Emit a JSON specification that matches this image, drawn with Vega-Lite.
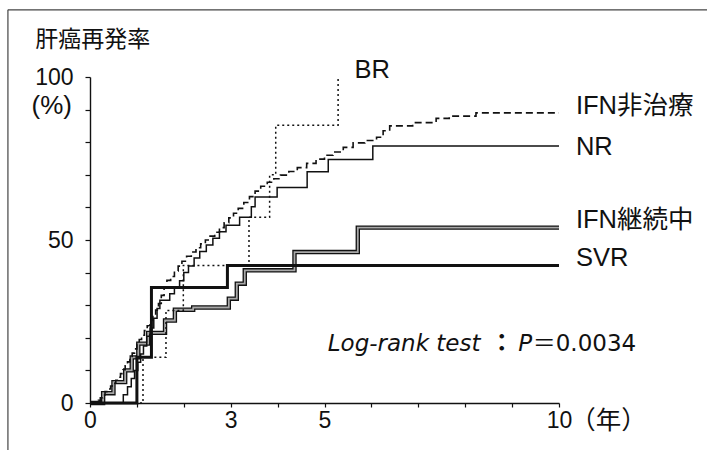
{
  "$schema": "https://vega.github.io/schema/vega-lite/v6.json",
  "width": 469,
  "height": 326,
  "autosize": {"type": "none"},
  "padding": {"left": 90, "top": 77, "right": 148, "bottom": 47},
  "background": "white",
  "config": {
    "view": {"stroke": null},
    "axis": {
      "grid": false,
      "domainColor": "#111",
      "domainWidth": 1.4,
      "tickColor": "#111",
      "tickWidth": 1.2,
      "labelFont": "Liberation Sans",
      "labelFontSize": 23,
      "labelColor": "#111",
      "labelFlush": false,
      "labelOverlap": false,
      "title": null
    }
  },
  "datasets": {
    "curves": [
      {"g": "SVR", "t": 0, "v": 0}, {"g": "SVR", "t": 1.0, "v": 14.0}, {"g": "SVR", "t": 1.31, "v": 35.4}, {"g": "SVR", "t": 2.93, "v": 42.2}, {"g": "SVR", "t": 10, "v": 42.2},
      {"g": "BR", "t": 0, "v": 0}, {"g": "BR", "t": 1.13, "v": 14.0}, {"g": "BR", "t": 1.62, "v": 28.4}, {"g": "BR", "t": 1.99, "v": 42.2}, {"g": "BR", "t": 3.39, "v": 57.0}, {"g": "BR", "t": 3.83, "v": 70.0}, {"g": "BR", "t": 3.96, "v": 85.2}, {"g": "BR", "t": 5.29, "v": 100},
      {"g": "IFN継続中", "t": 0, "v": 0}, {"g": "IFN継続中", "t": 0.28, "v": 3.0}, {"g": "IFN継続中", "t": 0.5, "v": 6.4}, {"g": "IFN継続中", "t": 0.75, "v": 10.0}, {"g": "IFN継続中", "t": 0.89, "v": 14.0}, {"g": "IFN継続中", "t": 1.03, "v": 18.2}, {"g": "IFN継続中", "t": 1.24, "v": 21.5}, {"g": "IFN継続中", "t": 1.6, "v": 25.3}, {"g": "IFN継続中", "t": 1.81, "v": 28.6}, {"g": "IFN継続中", "t": 2.2, "v": 29.3}, {"g": "IFN継続中", "t": 2.96, "v": 32.0}, {"g": "IFN継続中", "t": 3.13, "v": 36.6}, {"g": "IFN継続中", "t": 3.3, "v": 40.7}, {"g": "IFN継続中", "t": 4.36, "v": 46.3}, {"g": "IFN継続中", "t": 5.71, "v": 53.8}, {"g": "IFN継続中", "t": 10, "v": 53.8},
      {"g": "NR", "t": 0, "v": 0}, {"g": "NR", "t": 0.71, "v": 2.5}, {"g": "NR", "t": 0.8, "v": 5.0}, {"g": "NR", "t": 0.88, "v": 7.5}, {"g": "NR", "t": 0.95, "v": 10.0}, {"g": "NR", "t": 1.02, "v": 12.5}, {"g": "NR", "t": 1.08, "v": 15.0}, {"g": "NR", "t": 1.14, "v": 17.5}, {"g": "NR", "t": 1.21, "v": 20.5}, {"g": "NR", "t": 1.28, "v": 23.0}, {"g": "NR", "t": 1.36, "v": 26.0}, {"g": "NR", "t": 1.43, "v": 29.0}, {"g": "NR", "t": 1.49, "v": 31.5}, {"g": "NR", "t": 1.7, "v": 33.5}, {"g": "NR", "t": 1.8, "v": 35.5}, {"g": "NR", "t": 1.91, "v": 37.5}, {"g": "NR", "t": 2.0, "v": 40.0}, {"g": "NR", "t": 2.1, "v": 42.0}, {"g": "NR", "t": 2.22, "v": 44.5}, {"g": "NR", "t": 2.34, "v": 46.5}, {"g": "NR", "t": 2.48, "v": 48.5}, {"g": "NR", "t": 2.62, "v": 50.5}, {"g": "NR", "t": 2.76, "v": 52.5}, {"g": "NR", "t": 2.9, "v": 54.5}, {"g": "NR", "t": 3.19, "v": 57.0}, {"g": "NR", "t": 3.44, "v": 60.2}, {"g": "NR", "t": 3.52, "v": 63.2}, {"g": "NR", "t": 3.99, "v": 66.1}, {"g": "NR", "t": 4.63, "v": 70.9}, {"g": "NR", "t": 5.08, "v": 74.7}, {"g": "NR", "t": 6.03, "v": 78.8}, {"g": "NR", "t": 10, "v": 78.8},
      {"g": "IFN非治療", "t": 0, "v": 0}, {"g": "IFN非治療", "t": 0.18, "v": 0.8}, {"g": "IFN非治療", "t": 0.22, "v": 1.6}, {"g": "IFN非治療", "t": 0.27, "v": 2.5}, {"g": "IFN非治療", "t": 0.32, "v": 3.5}, {"g": "IFN非治療", "t": 0.38, "v": 4.3}, {"g": "IFN非治療", "t": 0.44, "v": 5.2}, {"g": "IFN非治療", "t": 0.5, "v": 6.1}, {"g": "IFN非治療", "t": 0.55, "v": 7.0}, {"g": "IFN非治療", "t": 0.6, "v": 7.9}, {"g": "IFN非治療", "t": 0.65, "v": 9.0}, {"g": "IFN非治療", "t": 0.7, "v": 10.2}, {"g": "IFN非治療", "t": 0.75, "v": 11.4}, {"g": "IFN非治療", "t": 0.8, "v": 12.6}, {"g": "IFN非治療", "t": 0.85, "v": 13.9}, {"g": "IFN非治療", "t": 0.9, "v": 15.3}, {"g": "IFN非治療", "t": 0.95, "v": 16.6}, {"g": "IFN非治療", "t": 1.0, "v": 18.0}, {"g": "IFN非治療", "t": 1.05, "v": 19.5}, {"g": "IFN非治療", "t": 1.1, "v": 20.8}, {"g": "IFN非治療", "t": 1.16, "v": 22.2}, {"g": "IFN非治療", "t": 1.22, "v": 23.7}, {"g": "IFN非治療", "t": 1.28, "v": 25.3}, {"g": "IFN非治療", "t": 1.34, "v": 26.9}, {"g": "IFN非治療", "t": 1.4, "v": 28.5}, {"g": "IFN非治療", "t": 1.46, "v": 30.5}, {"g": "IFN非治療", "t": 1.52, "v": 33.0}, {"g": "IFN非治療", "t": 1.58, "v": 35.5}, {"g": "IFN非治療", "t": 1.64, "v": 37.6}, {"g": "IFN非治療", "t": 1.72, "v": 38.8}, {"g": "IFN非治療", "t": 1.8, "v": 40.5}, {"g": "IFN非治療", "t": 1.88, "v": 42.0}, {"g": "IFN非治療", "t": 1.96, "v": 43.5}, {"g": "IFN非治療", "t": 2.06, "v": 45.0}, {"g": "IFN非治療", "t": 2.16, "v": 46.3}, {"g": "IFN非治療", "t": 2.26, "v": 47.6}, {"g": "IFN非治療", "t": 2.36, "v": 48.8}, {"g": "IFN非治療", "t": 2.46, "v": 50.0}, {"g": "IFN非治療", "t": 2.56, "v": 51.2}, {"g": "IFN非治療", "t": 2.66, "v": 52.4}, {"g": "IFN非治療", "t": 2.76, "v": 53.8}, {"g": "IFN非治療", "t": 2.86, "v": 55.3}, {"g": "IFN非治療", "t": 2.96, "v": 56.8}, {"g": "IFN非治療", "t": 3.06, "v": 58.2}, {"g": "IFN非治療", "t": 3.16, "v": 59.7}, {"g": "IFN非治療", "t": 3.28, "v": 61.5}, {"g": "IFN非治療", "t": 3.4, "v": 63.3}, {"g": "IFN非治療", "t": 3.52, "v": 65.0}, {"g": "IFN非治療", "t": 3.64, "v": 66.5}, {"g": "IFN非治療", "t": 3.78, "v": 67.7}, {"g": "IFN非治療", "t": 3.92, "v": 68.8}, {"g": "IFN非治療", "t": 4.06, "v": 69.9}, {"g": "IFN非治療", "t": 4.24, "v": 71.0}, {"g": "IFN非治療", "t": 4.42, "v": 72.2}, {"g": "IFN非治療", "t": 4.62, "v": 73.5}, {"g": "IFN非治療", "t": 4.82, "v": 74.8}, {"g": "IFN非治療", "t": 5.0, "v": 76.0}, {"g": "IFN非治療", "t": 5.18, "v": 77.0}, {"g": "IFN非治療", "t": 5.4, "v": 78.4}, {"g": "IFN非治療", "t": 5.61, "v": 79.8}, {"g": "IFN非治療", "t": 5.86, "v": 80.5}, {"g": "IFN非治療", "t": 6.11, "v": 81.5}, {"g": "IFN非治療", "t": 6.25, "v": 83.5}, {"g": "IFN非治療", "t": 6.39, "v": 85.0}, {"g": "IFN非治療", "t": 6.88, "v": 86.0}, {"g": "IFN非治療", "t": 7.38, "v": 87.3}, {"g": "IFN非治療", "t": 7.66, "v": 88.0}, {"g": "IFN非治療", "t": 8.23, "v": 89.0}, {"g": "IFN非治療", "t": 10, "v": 89.0}
    ],
    "curveLabels": [
      {"label": "BR", "t": 5.64, "v": 102.1},
      {"label": "IFN非治療", "t": 10.36, "v": 91.1},
      {"label": "NR", "t": 10.36, "v": 78.4},
      {"label": "IFN継続中", "t": 10.36, "v": 56.1},
      {"label": "SVR", "t": 10.36, "v": 44.5},
      {"label": "（年）", "t": 10.24, "v": -5.4}
    ],
    "titleLabel": [
      {"label": "肝癌再発率", "t": -1.17, "v": 111.4}
    ],
    "unitLabels": [
      {"label": "(%)", "t": -0.384, "v": 91.1}
    ],
    "italicParts": [
      {"label": "Log-rank test", "t": 5.07, "v": 18.0},
      {"label": "P", "t": 9.13, "v": 18.0}
    ],
    "plainParts": [
      {"label": "＝0.0034", "t": 9.44, "v": 18.0}
    ],
    "colon": [
      {"label": "：", "t": 8.78, "v": 18.0}
    ],
    "frame": [
      {"t": -1.75, "t2": -1.75, "v": 120.6, "v2": -14.6},
      {"t": -1.75, "t2": 13.2, "v": 120.6, "v2": 120.6}
    ]
  },
  "encoding": {
    "x": {
      "field": "t", "type": "quantitative",
      "scale": {"domain": [0, 10], "nice": false, "zero": false},
      "axis": {
        "values": [0, 1, 2, 3, 4, 5, 6, 7, 8, 9, 10],
        "labelExpr": "indexof([0, 3, 5, 10], datum.value) >= 0 ? datum.label : ''",
        "tickSize": 4,
        "labelPadding": 2
      }
    },
    "y": {
      "field": "v", "type": "quantitative",
      "scale": {"domain": [0, 100], "nice": false, "zero": false},
      "axis": {
        "values": [0, 10, 20, 30, 40, 50, 60, 70, 80, 90, 100],
        "labelExpr": "datum.value % 50 == 0 ? datum.label : ''",
        "tickSize": 5,
        "labelPadding": 12
      }
    }
  },
  "layer": [
    {
      "data": {"name": "frame"},
      "mark": {"type": "rule", "color": "#444", "strokeWidth": 1.2},
      "encoding": {"x2": {"field": "t2"}, "y2": {"field": "v2"}}
    },
    {
      "data": {"name": "curves"},
      "transform": [{"filter": "datum.g == 'IFN継続中'"}],
      "mark": {"type": "line", "interpolate": "step-after", "color": "#111", "strokeWidth": 4.4},
      "encoding": {"order": {"field": "t"}}
    },
    {
      "data": {"name": "curves"},
      "transform": [{"filter": "datum.g == 'IFN継続中'"}],
      "mark": {"type": "line", "interpolate": "step-after", "color": "#a8a8a8", "strokeWidth": 1.8},
      "encoding": {"order": {"field": "t"}}
    },
    {
      "data": {"name": "curves"},
      "transform": [{"filter": "datum.g == 'NR'"}],
      "mark": {"type": "line", "interpolate": "step-after", "color": "#111", "strokeWidth": 1.5},
      "encoding": {"order": {"field": "t"}}
    },
    {
      "data": {"name": "curves"},
      "transform": [{"filter": "datum.g == 'IFN非治療'"}],
      "mark": {"type": "line", "interpolate": "step-after", "color": "#111", "strokeWidth": 1.6, "strokeDash": [7, 4]},
      "encoding": {"order": {"field": "t"}}
    },
    {
      "data": {"name": "curves"},
      "transform": [{"filter": "datum.g == 'BR'"}],
      "mark": {"type": "line", "interpolate": "step-after", "color": "#111", "strokeWidth": 1.5, "strokeDash": [2, 3]},
      "encoding": {"order": {"field": "t"}}
    },
    {
      "data": {"name": "curves"},
      "transform": [{"filter": "datum.g == 'SVR'"}],
      "mark": {"type": "line", "interpolate": "step-after", "color": "#111", "strokeWidth": 3},
      "encoding": {"order": {"field": "t"}}
    },
    {
      "data": {"name": "curveLabels"},
      "mark": {"type": "text", "align": "left", "baseline": "middle", "font": "Liberation Sans, Noto Sans CJK JP", "fontSize": 25.5, "color": "#111"},
      "encoding": {"text": {"field": "label"}}
    },
    {
      "data": {"name": "titleLabel"},
      "mark": {"type": "text", "align": "left", "baseline": "middle", "font": "Noto Sans CJK JP", "fontSize": 23, "color": "#111"},
      "encoding": {"text": {"field": "label"}}
    },
    {
      "data": {"name": "unitLabels"},
      "mark": {"type": "text", "align": "right", "baseline": "middle", "font": "Liberation Sans", "fontSize": 26, "color": "#111"},
      "encoding": {"text": {"field": "label"}}
    },
    {
      "data": {"name": "italicParts"},
      "mark": {"type": "text", "align": "left", "baseline": "middle", "font": "DejaVu Sans", "fontStyle": "italic", "fontSize": 23, "color": "#111"},
      "encoding": {"text": {"field": "label"}}
    },
    {
      "data": {"name": "plainParts"},
      "mark": {"type": "text", "align": "left", "baseline": "middle", "font": "DejaVu Sans, Noto Sans CJK JP", "fontSize": 23, "color": "#111"},
      "encoding": {"text": {"field": "label"}}
    },
    {
      "data": {"name": "colon"},
      "mark": {"type": "text", "align": "center", "baseline": "middle", "font": "Noto Sans CJK JP", "fontSize": 24, "fontWeight": "bold", "color": "#111"},
      "encoding": {"text": {"field": "label"}}
    }
  ]
}
